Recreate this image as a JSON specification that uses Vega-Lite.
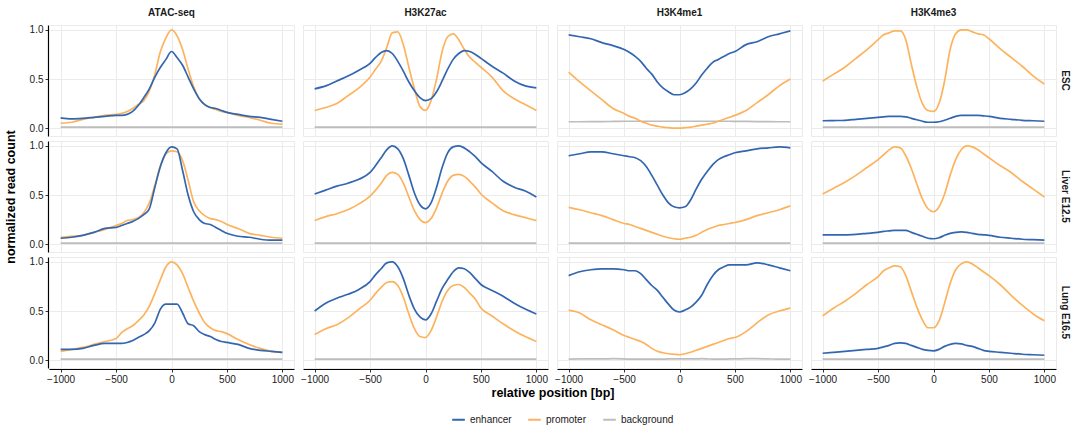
{
  "$schema": "https://vega.github.io/schema/vega-lite/v6.json",
  "padding": {"left": 4, "top": 8, "right": 2, "bottom": 2},
  "background": "white",
  "data": {"values": [
{"t":"ATAC-seq","c":"ESC","x":-1000,"E":0.105,"P":0.05,"B":0.01},
{"t":"ATAC-seq","c":"ESC","x":-900,"E":0.095,"P":0.06,"B":0.01},
{"t":"ATAC-seq","c":"ESC","x":-800,"E":0.10,"P":0.09,"B":0.01},
{"t":"ATAC-seq","c":"ESC","x":-700,"E":0.11,"P":0.11,"B":0.01},
{"t":"ATAC-seq","c":"ESC","x":-600,"E":0.12,"P":0.13,"B":0.01},
{"t":"ATAC-seq","c":"ESC","x":-500,"E":0.13,"P":0.14,"B":0.01},
{"t":"ATAC-seq","c":"ESC","x":-450,"E":0.13,"P":0.15,"B":0.01},
{"t":"ATAC-seq","c":"ESC","x":-400,"E":0.14,"P":0.17,"B":0.01},
{"t":"ATAC-seq","c":"ESC","x":-350,"E":0.17,"P":0.20,"B":0.01},
{"t":"ATAC-seq","c":"ESC","x":-300,"E":0.23,"P":0.24,"B":0.01},
{"t":"ATAC-seq","c":"ESC","x":-250,"E":0.31,"P":0.28,"B":0.01},
{"t":"ATAC-seq","c":"ESC","x":-200,"E":0.40,"P":0.38,"B":0.01},
{"t":"ATAC-seq","c":"ESC","x":-150,"E":0.52,"P":0.55,"B":0.01},
{"t":"ATAC-seq","c":"ESC","x":-100,"E":0.62,"P":0.78,"B":0.01},
{"t":"ATAC-seq","c":"ESC","x":-50,"E":0.70,"P":0.92,"B":0.01},
{"t":"ATAC-seq","c":"ESC","x":0,"E":0.78,"P":1.0,"B":0.01},
{"t":"ATAC-seq","c":"ESC","x":50,"E":0.72,"P":0.94,"B":0.01},
{"t":"ATAC-seq","c":"ESC","x":100,"E":0.64,"P":0.80,"B":0.01},
{"t":"ATAC-seq","c":"ESC","x":150,"E":0.52,"P":0.60,"B":0.01},
{"t":"ATAC-seq","c":"ESC","x":200,"E":0.40,"P":0.42,"B":0.01},
{"t":"ATAC-seq","c":"ESC","x":250,"E":0.30,"P":0.30,"B":0.01},
{"t":"ATAC-seq","c":"ESC","x":300,"E":0.24,"P":0.24,"B":0.01},
{"t":"ATAC-seq","c":"ESC","x":350,"E":0.21,"P":0.21,"B":0.01},
{"t":"ATAC-seq","c":"ESC","x":400,"E":0.20,"P":0.19,"B":0.01},
{"t":"ATAC-seq","c":"ESC","x":450,"E":0.18,"P":0.17,"B":0.01},
{"t":"ATAC-seq","c":"ESC","x":500,"E":0.16,"P":0.16,"B":0.01},
{"t":"ATAC-seq","c":"ESC","x":600,"E":0.14,"P":0.13,"B":0.01},
{"t":"ATAC-seq","c":"ESC","x":700,"E":0.12,"P":0.11,"B":0.01},
{"t":"ATAC-seq","c":"ESC","x":800,"E":0.11,"P":0.08,"B":0.01},
{"t":"ATAC-seq","c":"ESC","x":900,"E":0.09,"P":0.05,"B":0.01},
{"t":"ATAC-seq","c":"ESC","x":1000,"E":0.07,"P":0.04,"B":0.01},
{"t":"ATAC-seq","c":"Liver E12.5","x":-1000,"E":0.06,"P":0.07,"B":0.01},
{"t":"ATAC-seq","c":"Liver E12.5","x":-900,"E":0.07,"P":0.08,"B":0.01},
{"t":"ATAC-seq","c":"Liver E12.5","x":-800,"E":0.09,"P":0.09,"B":0.01},
{"t":"ATAC-seq","c":"Liver E12.5","x":-700,"E":0.12,"P":0.12,"B":0.01},
{"t":"ATAC-seq","c":"Liver E12.5","x":-600,"E":0.16,"P":0.15,"B":0.01},
{"t":"ATAC-seq","c":"Liver E12.5","x":-500,"E":0.17,"P":0.19,"B":0.01},
{"t":"ATAC-seq","c":"Liver E12.5","x":-450,"E":0.19,"P":0.21,"B":0.01},
{"t":"ATAC-seq","c":"Liver E12.5","x":-400,"E":0.21,"P":0.24,"B":0.01},
{"t":"ATAC-seq","c":"Liver E12.5","x":-350,"E":0.23,"P":0.25,"B":0.01},
{"t":"ATAC-seq","c":"Liver E12.5","x":-300,"E":0.26,"P":0.27,"B":0.01},
{"t":"ATAC-seq","c":"Liver E12.5","x":-250,"E":0.30,"P":0.32,"B":0.01},
{"t":"ATAC-seq","c":"Liver E12.5","x":-200,"E":0.36,"P":0.42,"B":0.01},
{"t":"ATAC-seq","c":"Liver E12.5","x":-150,"E":0.58,"P":0.60,"B":0.01},
{"t":"ATAC-seq","c":"Liver E12.5","x":-100,"E":0.79,"P":0.80,"B":0.01},
{"t":"ATAC-seq","c":"Liver E12.5","x":-50,"E":0.93,"P":0.92,"B":0.01},
{"t":"ATAC-seq","c":"Liver E12.5","x":0,"E":0.99,"P":0.95,"B":0.01},
{"t":"ATAC-seq","c":"Liver E12.5","x":50,"E":0.97,"P":0.94,"B":0.01},
{"t":"ATAC-seq","c":"Liver E12.5","x":100,"E":0.75,"P":0.85,"B":0.01},
{"t":"ATAC-seq","c":"Liver E12.5","x":150,"E":0.50,"P":0.65,"B":0.01},
{"t":"ATAC-seq","c":"Liver E12.5","x":200,"E":0.33,"P":0.43,"B":0.01},
{"t":"ATAC-seq","c":"Liver E12.5","x":250,"E":0.25,"P":0.34,"B":0.01},
{"t":"ATAC-seq","c":"Liver E12.5","x":300,"E":0.21,"P":0.29,"B":0.01},
{"t":"ATAC-seq","c":"Liver E12.5","x":350,"E":0.20,"P":0.26,"B":0.01},
{"t":"ATAC-seq","c":"Liver E12.5","x":400,"E":0.17,"P":0.25,"B":0.01},
{"t":"ATAC-seq","c":"Liver E12.5","x":450,"E":0.14,"P":0.23,"B":0.01},
{"t":"ATAC-seq","c":"Liver E12.5","x":500,"E":0.11,"P":0.20,"B":0.01},
{"t":"ATAC-seq","c":"Liver E12.5","x":600,"E":0.08,"P":0.16,"B":0.01},
{"t":"ATAC-seq","c":"Liver E12.5","x":700,"E":0.07,"P":0.11,"B":0.01},
{"t":"ATAC-seq","c":"Liver E12.5","x":800,"E":0.05,"P":0.09,"B":0.01},
{"t":"ATAC-seq","c":"Liver E12.5","x":900,"E":0.04,"P":0.07,"B":0.01},
{"t":"ATAC-seq","c":"Liver E12.5","x":1000,"E":0.04,"P":0.06,"B":0.01},
{"t":"ATAC-seq","c":"Lung E16.5","x":-1000,"E":0.11,"P":0.09,"B":0.01},
{"t":"ATAC-seq","c":"Lung E16.5","x":-900,"E":0.11,"P":0.11,"B":0.01},
{"t":"ATAC-seq","c":"Lung E16.5","x":-800,"E":0.12,"P":0.13,"B":0.01},
{"t":"ATAC-seq","c":"Lung E16.5","x":-700,"E":0.15,"P":0.16,"B":0.01},
{"t":"ATAC-seq","c":"Lung E16.5","x":-600,"E":0.17,"P":0.19,"B":0.01},
{"t":"ATAC-seq","c":"Lung E16.5","x":-500,"E":0.17,"P":0.22,"B":0.01},
{"t":"ATAC-seq","c":"Lung E16.5","x":-450,"E":0.17,"P":0.28,"B":0.01},
{"t":"ATAC-seq","c":"Lung E16.5","x":-400,"E":0.18,"P":0.32,"B":0.01},
{"t":"ATAC-seq","c":"Lung E16.5","x":-350,"E":0.20,"P":0.35,"B":0.01},
{"t":"ATAC-seq","c":"Lung E16.5","x":-300,"E":0.23,"P":0.40,"B":0.01},
{"t":"ATAC-seq","c":"Lung E16.5","x":-250,"E":0.26,"P":0.46,"B":0.01},
{"t":"ATAC-seq","c":"Lung E16.5","x":-200,"E":0.30,"P":0.55,"B":0.01},
{"t":"ATAC-seq","c":"Lung E16.5","x":-150,"E":0.38,"P":0.68,"B":0.01},
{"t":"ATAC-seq","c":"Lung E16.5","x":-100,"E":0.52,"P":0.82,"B":0.01},
{"t":"ATAC-seq","c":"Lung E16.5","x":-50,"E":0.57,"P":0.95,"B":0.01},
{"t":"ATAC-seq","c":"Lung E16.5","x":0,"E":0.57,"P":1.0,"B":0.01},
{"t":"ATAC-seq","c":"Lung E16.5","x":50,"E":0.57,"P":0.97,"B":0.01},
{"t":"ATAC-seq","c":"Lung E16.5","x":100,"E":0.48,"P":0.88,"B":0.01},
{"t":"ATAC-seq","c":"Lung E16.5","x":150,"E":0.37,"P":0.74,"B":0.01},
{"t":"ATAC-seq","c":"Lung E16.5","x":200,"E":0.35,"P":0.60,"B":0.01},
{"t":"ATAC-seq","c":"Lung E16.5","x":250,"E":0.29,"P":0.48,"B":0.01},
{"t":"ATAC-seq","c":"Lung E16.5","x":300,"E":0.26,"P":0.38,"B":0.01},
{"t":"ATAC-seq","c":"Lung E16.5","x":350,"E":0.24,"P":0.33,"B":0.01},
{"t":"ATAC-seq","c":"Lung E16.5","x":400,"E":0.21,"P":0.30,"B":0.01},
{"t":"ATAC-seq","c":"Lung E16.5","x":450,"E":0.19,"P":0.29,"B":0.01},
{"t":"ATAC-seq","c":"Lung E16.5","x":500,"E":0.18,"P":0.27,"B":0.01},
{"t":"ATAC-seq","c":"Lung E16.5","x":600,"E":0.16,"P":0.21,"B":0.01},
{"t":"ATAC-seq","c":"Lung E16.5","x":700,"E":0.12,"P":0.16,"B":0.01},
{"t":"ATAC-seq","c":"Lung E16.5","x":800,"E":0.10,"P":0.12,"B":0.01},
{"t":"ATAC-seq","c":"Lung E16.5","x":900,"E":0.09,"P":0.09,"B":0.01},
{"t":"ATAC-seq","c":"Lung E16.5","x":1000,"E":0.08,"P":0.08,"B":0.01},
{"t":"H3K27ac","c":"ESC","x":-1000,"E":0.40,"P":0.18,"B":0.01},
{"t":"H3K27ac","c":"ESC","x":-900,"E":0.43,"P":0.21,"B":0.01},
{"t":"H3K27ac","c":"ESC","x":-800,"E":0.48,"P":0.25,"B":0.01},
{"t":"H3K27ac","c":"ESC","x":-700,"E":0.53,"P":0.33,"B":0.01},
{"t":"H3K27ac","c":"ESC","x":-600,"E":0.59,"P":0.41,"B":0.01},
{"t":"H3K27ac","c":"ESC","x":-500,"E":0.66,"P":0.52,"B":0.01},
{"t":"H3K27ac","c":"ESC","x":-450,"E":0.72,"P":0.60,"B":0.01},
{"t":"H3K27ac","c":"ESC","x":-400,"E":0.77,"P":0.68,"B":0.01},
{"t":"H3K27ac","c":"ESC","x":-350,"E":0.79,"P":0.82,"B":0.01},
{"t":"H3K27ac","c":"ESC","x":-300,"E":0.76,"P":0.97,"B":0.01},
{"t":"H3K27ac","c":"ESC","x":-250,"E":0.68,"P":0.98,"B":0.01},
{"t":"H3K27ac","c":"ESC","x":-200,"E":0.58,"P":0.85,"B":0.01},
{"t":"H3K27ac","c":"ESC","x":-150,"E":0.47,"P":0.62,"B":0.01},
{"t":"H3K27ac","c":"ESC","x":-100,"E":0.38,"P":0.40,"B":0.01},
{"t":"H3K27ac","c":"ESC","x":-50,"E":0.31,"P":0.22,"B":0.01},
{"t":"H3K27ac","c":"ESC","x":0,"E":0.28,"P":0.18,"B":0.01},
{"t":"H3K27ac","c":"ESC","x":50,"E":0.30,"P":0.28,"B":0.01},
{"t":"H3K27ac","c":"ESC","x":100,"E":0.37,"P":0.50,"B":0.01},
{"t":"H3K27ac","c":"ESC","x":150,"E":0.48,"P":0.78,"B":0.01},
{"t":"H3K27ac","c":"ESC","x":200,"E":0.60,"P":0.93,"B":0.01},
{"t":"H3K27ac","c":"ESC","x":250,"E":0.70,"P":0.96,"B":0.01},
{"t":"H3K27ac","c":"ESC","x":300,"E":0.76,"P":0.90,"B":0.01},
{"t":"H3K27ac","c":"ESC","x":350,"E":0.79,"P":0.80,"B":0.01},
{"t":"H3K27ac","c":"ESC","x":400,"E":0.78,"P":0.72,"B":0.01},
{"t":"H3K27ac","c":"ESC","x":450,"E":0.75,"P":0.67,"B":0.01},
{"t":"H3K27ac","c":"ESC","x":500,"E":0.71,"P":0.62,"B":0.01},
{"t":"H3K27ac","c":"ESC","x":600,"E":0.63,"P":0.52,"B":0.01},
{"t":"H3K27ac","c":"ESC","x":700,"E":0.56,"P":0.38,"B":0.01},
{"t":"H3K27ac","c":"ESC","x":800,"E":0.48,"P":0.30,"B":0.01},
{"t":"H3K27ac","c":"ESC","x":900,"E":0.43,"P":0.24,"B":0.01},
{"t":"H3K27ac","c":"ESC","x":1000,"E":0.41,"P":0.18,"B":0.01},
{"t":"H3K27ac","c":"Liver E12.5","x":-1000,"E":0.51,"P":0.24,"B":0.01},
{"t":"H3K27ac","c":"Liver E12.5","x":-900,"E":0.55,"P":0.28,"B":0.01},
{"t":"H3K27ac","c":"Liver E12.5","x":-800,"E":0.59,"P":0.31,"B":0.01},
{"t":"H3K27ac","c":"Liver E12.5","x":-700,"E":0.62,"P":0.35,"B":0.01},
{"t":"H3K27ac","c":"Liver E12.5","x":-600,"E":0.66,"P":0.41,"B":0.01},
{"t":"H3K27ac","c":"Liver E12.5","x":-500,"E":0.73,"P":0.49,"B":0.01},
{"t":"H3K27ac","c":"Liver E12.5","x":-450,"E":0.80,"P":0.55,"B":0.01},
{"t":"H3K27ac","c":"Liver E12.5","x":-400,"E":0.88,"P":0.62,"B":0.01},
{"t":"H3K27ac","c":"Liver E12.5","x":-350,"E":0.96,"P":0.70,"B":0.01},
{"t":"H3K27ac","c":"Liver E12.5","x":-300,"E":1.0,"P":0.73,"B":0.01},
{"t":"H3K27ac","c":"Liver E12.5","x":-250,"E":0.97,"P":0.71,"B":0.01},
{"t":"H3K27ac","c":"Liver E12.5","x":-200,"E":0.87,"P":0.62,"B":0.01},
{"t":"H3K27ac","c":"Liver E12.5","x":-150,"E":0.70,"P":0.48,"B":0.01},
{"t":"H3K27ac","c":"Liver E12.5","x":-100,"E":0.52,"P":0.34,"B":0.01},
{"t":"H3K27ac","c":"Liver E12.5","x":-50,"E":0.40,"P":0.25,"B":0.01},
{"t":"H3K27ac","c":"Liver E12.5","x":0,"E":0.36,"P":0.22,"B":0.01},
{"t":"H3K27ac","c":"Liver E12.5","x":50,"E":0.42,"P":0.26,"B":0.01},
{"t":"H3K27ac","c":"Liver E12.5","x":100,"E":0.58,"P":0.37,"B":0.01},
{"t":"H3K27ac","c":"Liver E12.5","x":150,"E":0.78,"P":0.52,"B":0.01},
{"t":"H3K27ac","c":"Liver E12.5","x":200,"E":0.93,"P":0.64,"B":0.01},
{"t":"H3K27ac","c":"Liver E12.5","x":250,"E":0.99,"P":0.70,"B":0.01},
{"t":"H3K27ac","c":"Liver E12.5","x":300,"E":1.0,"P":0.71,"B":0.01},
{"t":"H3K27ac","c":"Liver E12.5","x":350,"E":0.98,"P":0.69,"B":0.01},
{"t":"H3K27ac","c":"Liver E12.5","x":400,"E":0.94,"P":0.64,"B":0.01},
{"t":"H3K27ac","c":"Liver E12.5","x":450,"E":0.89,"P":0.58,"B":0.01},
{"t":"H3K27ac","c":"Liver E12.5","x":500,"E":0.83,"P":0.51,"B":0.01},
{"t":"H3K27ac","c":"Liver E12.5","x":600,"E":0.74,"P":0.42,"B":0.01},
{"t":"H3K27ac","c":"Liver E12.5","x":700,"E":0.64,"P":0.34,"B":0.01},
{"t":"H3K27ac","c":"Liver E12.5","x":800,"E":0.58,"P":0.30,"B":0.01},
{"t":"H3K27ac","c":"Liver E12.5","x":900,"E":0.54,"P":0.27,"B":0.01},
{"t":"H3K27ac","c":"Liver E12.5","x":1000,"E":0.48,"P":0.24,"B":0.01},
{"t":"H3K27ac","c":"Lung E16.5","x":-1000,"E":0.50,"P":0.26,"B":0.01},
{"t":"H3K27ac","c":"Lung E16.5","x":-900,"E":0.58,"P":0.32,"B":0.01},
{"t":"H3K27ac","c":"Lung E16.5","x":-800,"E":0.63,"P":0.36,"B":0.01},
{"t":"H3K27ac","c":"Lung E16.5","x":-700,"E":0.67,"P":0.43,"B":0.01},
{"t":"H3K27ac","c":"Lung E16.5","x":-600,"E":0.72,"P":0.52,"B":0.01},
{"t":"H3K27ac","c":"Lung E16.5","x":-500,"E":0.80,"P":0.61,"B":0.01},
{"t":"H3K27ac","c":"Lung E16.5","x":-450,"E":0.87,"P":0.68,"B":0.01},
{"t":"H3K27ac","c":"Lung E16.5","x":-400,"E":0.93,"P":0.74,"B":0.01},
{"t":"H3K27ac","c":"Lung E16.5","x":-350,"E":0.99,"P":0.79,"B":0.01},
{"t":"H3K27ac","c":"Lung E16.5","x":-300,"E":1.0,"P":0.80,"B":0.01},
{"t":"H3K27ac","c":"Lung E16.5","x":-250,"E":0.95,"P":0.76,"B":0.01},
{"t":"H3K27ac","c":"Lung E16.5","x":-200,"E":0.83,"P":0.64,"B":0.01},
{"t":"H3K27ac","c":"Lung E16.5","x":-150,"E":0.66,"P":0.47,"B":0.01},
{"t":"H3K27ac","c":"Lung E16.5","x":-100,"E":0.52,"P":0.32,"B":0.01},
{"t":"H3K27ac","c":"Lung E16.5","x":-50,"E":0.44,"P":0.24,"B":0.01},
{"t":"H3K27ac","c":"Lung E16.5","x":0,"E":0.41,"P":0.23,"B":0.01},
{"t":"H3K27ac","c":"Lung E16.5","x":50,"E":0.47,"P":0.30,"B":0.01},
{"t":"H3K27ac","c":"Lung E16.5","x":100,"E":0.60,"P":0.44,"B":0.01},
{"t":"H3K27ac","c":"Lung E16.5","x":150,"E":0.73,"P":0.60,"B":0.01},
{"t":"H3K27ac","c":"Lung E16.5","x":200,"E":0.82,"P":0.71,"B":0.01},
{"t":"H3K27ac","c":"Lung E16.5","x":250,"E":0.90,"P":0.76,"B":0.01},
{"t":"H3K27ac","c":"Lung E16.5","x":300,"E":0.94,"P":0.77,"B":0.01},
{"t":"H3K27ac","c":"Lung E16.5","x":350,"E":0.93,"P":0.74,"B":0.01},
{"t":"H3K27ac","c":"Lung E16.5","x":400,"E":0.89,"P":0.68,"B":0.01},
{"t":"H3K27ac","c":"Lung E16.5","x":450,"E":0.83,"P":0.62,"B":0.01},
{"t":"H3K27ac","c":"Lung E16.5","x":500,"E":0.77,"P":0.53,"B":0.01},
{"t":"H3K27ac","c":"Lung E16.5","x":600,"E":0.71,"P":0.45,"B":0.01},
{"t":"H3K27ac","c":"Lung E16.5","x":700,"E":0.65,"P":0.37,"B":0.01},
{"t":"H3K27ac","c":"Lung E16.5","x":800,"E":0.58,"P":0.30,"B":0.01},
{"t":"H3K27ac","c":"Lung E16.5","x":900,"E":0.52,"P":0.24,"B":0.01},
{"t":"H3K27ac","c":"Lung E16.5","x":1000,"E":0.47,"P":0.19,"B":0.01},
{"t":"H3K4me1","c":"ESC","x":-1000,"E":0.95,"P":0.57,"B":0.065},
{"t":"H3K4me1","c":"ESC","x":-900,"E":0.93,"P":0.47,"B":0.065},
{"t":"H3K4me1","c":"ESC","x":-800,"E":0.91,"P":0.38,"B":0.066},
{"t":"H3K4me1","c":"ESC","x":-700,"E":0.87,"P":0.29,"B":0.067},
{"t":"H3K4me1","c":"ESC","x":-600,"E":0.84,"P":0.20,"B":0.068},
{"t":"H3K4me1","c":"ESC","x":-500,"E":0.80,"P":0.15,"B":0.07},
{"t":"H3K4me1","c":"ESC","x":-450,"E":0.77,"P":0.12,"B":0.07},
{"t":"H3K4me1","c":"ESC","x":-400,"E":0.73,"P":0.10,"B":0.07},
{"t":"H3K4me1","c":"ESC","x":-350,"E":0.68,"P":0.07,"B":0.07},
{"t":"H3K4me1","c":"ESC","x":-300,"E":0.61,"P":0.05,"B":0.07},
{"t":"H3K4me1","c":"ESC","x":-250,"E":0.55,"P":0.03,"B":0.07},
{"t":"H3K4me1","c":"ESC","x":-200,"E":0.47,"P":0.02,"B":0.07},
{"t":"H3K4me1","c":"ESC","x":-150,"E":0.41,"P":0.01,"B":0.07},
{"t":"H3K4me1","c":"ESC","x":-100,"E":0.37,"P":0.005,"B":0.07},
{"t":"H3K4me1","c":"ESC","x":-50,"E":0.34,"P":0.0,"B":0.07},
{"t":"H3K4me1","c":"ESC","x":0,"E":0.34,"P":0.0,"B":0.07},
{"t":"H3K4me1","c":"ESC","x":50,"E":0.36,"P":0.005,"B":0.07},
{"t":"H3K4me1","c":"ESC","x":100,"E":0.40,"P":0.01,"B":0.07},
{"t":"H3K4me1","c":"ESC","x":150,"E":0.46,"P":0.02,"B":0.07},
{"t":"H3K4me1","c":"ESC","x":200,"E":0.54,"P":0.03,"B":0.07},
{"t":"H3K4me1","c":"ESC","x":250,"E":0.61,"P":0.04,"B":0.07},
{"t":"H3K4me1","c":"ESC","x":300,"E":0.67,"P":0.05,"B":0.07},
{"t":"H3K4me1","c":"ESC","x":350,"E":0.70,"P":0.07,"B":0.07},
{"t":"H3K4me1","c":"ESC","x":400,"E":0.73,"P":0.09,"B":0.07},
{"t":"H3K4me1","c":"ESC","x":450,"E":0.76,"P":0.11,"B":0.07},
{"t":"H3K4me1","c":"ESC","x":500,"E":0.78,"P":0.13,"B":0.069},
{"t":"H3K4me1","c":"ESC","x":600,"E":0.85,"P":0.18,"B":0.068},
{"t":"H3K4me1","c":"ESC","x":700,"E":0.88,"P":0.26,"B":0.067},
{"t":"H3K4me1","c":"ESC","x":800,"E":0.93,"P":0.34,"B":0.066},
{"t":"H3K4me1","c":"ESC","x":900,"E":0.96,"P":0.43,"B":0.065},
{"t":"H3K4me1","c":"ESC","x":1000,"E":0.99,"P":0.50,"B":0.065},
{"t":"H3K4me1","c":"Liver E12.5","x":-1000,"E":0.90,"P":0.375,"B":0.01},
{"t":"H3K4me1","c":"Liver E12.5","x":-900,"E":0.92,"P":0.35,"B":0.01},
{"t":"H3K4me1","c":"Liver E12.5","x":-800,"E":0.94,"P":0.32,"B":0.01},
{"t":"H3K4me1","c":"Liver E12.5","x":-700,"E":0.94,"P":0.29,"B":0.01},
{"t":"H3K4me1","c":"Liver E12.5","x":-600,"E":0.92,"P":0.25,"B":0.01},
{"t":"H3K4me1","c":"Liver E12.5","x":-500,"E":0.90,"P":0.21,"B":0.01},
{"t":"H3K4me1","c":"Liver E12.5","x":-450,"E":0.89,"P":0.20,"B":0.01},
{"t":"H3K4me1","c":"Liver E12.5","x":-400,"E":0.88,"P":0.18,"B":0.01},
{"t":"H3K4me1","c":"Liver E12.5","x":-350,"E":0.85,"P":0.16,"B":0.01},
{"t":"H3K4me1","c":"Liver E12.5","x":-300,"E":0.79,"P":0.14,"B":0.01},
{"t":"H3K4me1","c":"Liver E12.5","x":-250,"E":0.70,"P":0.12,"B":0.01},
{"t":"H3K4me1","c":"Liver E12.5","x":-200,"E":0.60,"P":0.10,"B":0.01},
{"t":"H3K4me1","c":"Liver E12.5","x":-150,"E":0.50,"P":0.08,"B":0.01},
{"t":"H3K4me1","c":"Liver E12.5","x":-100,"E":0.42,"P":0.065,"B":0.01},
{"t":"H3K4me1","c":"Liver E12.5","x":-50,"E":0.38,"P":0.055,"B":0.01},
{"t":"H3K4me1","c":"Liver E12.5","x":0,"E":0.37,"P":0.05,"B":0.01},
{"t":"H3K4me1","c":"Liver E12.5","x":50,"E":0.38,"P":0.06,"B":0.01},
{"t":"H3K4me1","c":"Liver E12.5","x":100,"E":0.45,"P":0.07,"B":0.01},
{"t":"H3K4me1","c":"Liver E12.5","x":150,"E":0.56,"P":0.09,"B":0.01},
{"t":"H3K4me1","c":"Liver E12.5","x":200,"E":0.66,"P":0.12,"B":0.01},
{"t":"H3K4me1","c":"Liver E12.5","x":250,"E":0.74,"P":0.15,"B":0.01},
{"t":"H3K4me1","c":"Liver E12.5","x":300,"E":0.81,"P":0.17,"B":0.01},
{"t":"H3K4me1","c":"Liver E12.5","x":350,"E":0.86,"P":0.19,"B":0.01},
{"t":"H3K4me1","c":"Liver E12.5","x":400,"E":0.89,"P":0.20,"B":0.01},
{"t":"H3K4me1","c":"Liver E12.5","x":450,"E":0.91,"P":0.21,"B":0.01},
{"t":"H3K4me1","c":"Liver E12.5","x":500,"E":0.93,"P":0.22,"B":0.01},
{"t":"H3K4me1","c":"Liver E12.5","x":600,"E":0.95,"P":0.25,"B":0.01},
{"t":"H3K4me1","c":"Liver E12.5","x":700,"E":0.97,"P":0.29,"B":0.01},
{"t":"H3K4me1","c":"Liver E12.5","x":800,"E":0.98,"P":0.32,"B":0.01},
{"t":"H3K4me1","c":"Liver E12.5","x":900,"E":0.99,"P":0.35,"B":0.01},
{"t":"H3K4me1","c":"Liver E12.5","x":1000,"E":0.98,"P":0.39,"B":0.01},
{"t":"H3K4me1","c":"Lung E16.5","x":-1000,"E":0.86,"P":0.51,"B":0.01},
{"t":"H3K4me1","c":"Lung E16.5","x":-900,"E":0.90,"P":0.48,"B":0.012},
{"t":"H3K4me1","c":"Lung E16.5","x":-800,"E":0.92,"P":0.41,"B":0.012},
{"t":"H3K4me1","c":"Lung E16.5","x":-700,"E":0.93,"P":0.36,"B":0.012},
{"t":"H3K4me1","c":"Lung E16.5","x":-600,"E":0.93,"P":0.31,"B":0.015},
{"t":"H3K4me1","c":"Lung E16.5","x":-500,"E":0.92,"P":0.25,"B":0.012},
{"t":"H3K4me1","c":"Lung E16.5","x":-450,"E":0.91,"P":0.23,"B":0.01},
{"t":"H3K4me1","c":"Lung E16.5","x":-400,"E":0.91,"P":0.21,"B":0.01},
{"t":"H3K4me1","c":"Lung E16.5","x":-350,"E":0.88,"P":0.19,"B":0.01},
{"t":"H3K4me1","c":"Lung E16.5","x":-300,"E":0.82,"P":0.16,"B":0.01},
{"t":"H3K4me1","c":"Lung E16.5","x":-250,"E":0.76,"P":0.12,"B":0.01},
{"t":"H3K4me1","c":"Lung E16.5","x":-200,"E":0.71,"P":0.09,"B":0.01},
{"t":"H3K4me1","c":"Lung E16.5","x":-150,"E":0.64,"P":0.075,"B":0.01},
{"t":"H3K4me1","c":"Lung E16.5","x":-100,"E":0.57,"P":0.065,"B":0.012},
{"t":"H3K4me1","c":"Lung E16.5","x":-50,"E":0.51,"P":0.06,"B":0.012},
{"t":"H3K4me1","c":"Lung E16.5","x":0,"E":0.49,"P":0.055,"B":0.012},
{"t":"H3K4me1","c":"Lung E16.5","x":50,"E":0.51,"P":0.065,"B":0.012},
{"t":"H3K4me1","c":"Lung E16.5","x":100,"E":0.54,"P":0.08,"B":0.012},
{"t":"H3K4me1","c":"Lung E16.5","x":150,"E":0.59,"P":0.10,"B":0.012},
{"t":"H3K4me1","c":"Lung E16.5","x":200,"E":0.66,"P":0.12,"B":0.015},
{"t":"H3K4me1","c":"Lung E16.5","x":250,"E":0.77,"P":0.14,"B":0.012},
{"t":"H3K4me1","c":"Lung E16.5","x":300,"E":0.86,"P":0.16,"B":0.01},
{"t":"H3K4me1","c":"Lung E16.5","x":350,"E":0.92,"P":0.18,"B":0.01},
{"t":"H3K4me1","c":"Lung E16.5","x":400,"E":0.95,"P":0.20,"B":0.01},
{"t":"H3K4me1","c":"Lung E16.5","x":450,"E":0.97,"P":0.22,"B":0.012},
{"t":"H3K4me1","c":"Lung E16.5","x":500,"E":0.97,"P":0.23,"B":0.012},
{"t":"H3K4me1","c":"Lung E16.5","x":600,"E":0.97,"P":0.29,"B":0.015},
{"t":"H3K4me1","c":"Lung E16.5","x":700,"E":0.99,"P":0.38,"B":0.015},
{"t":"H3K4me1","c":"Lung E16.5","x":800,"E":0.97,"P":0.46,"B":0.012},
{"t":"H3K4me1","c":"Lung E16.5","x":900,"E":0.94,"P":0.50,"B":0.01},
{"t":"H3K4me1","c":"Lung E16.5","x":1000,"E":0.91,"P":0.53,"B":0.01},
{"t":"H3K4me3","c":"ESC","x":-1000,"E":0.075,"P":0.48,"B":0.01},
{"t":"H3K4me3","c":"ESC","x":-900,"E":0.077,"P":0.55,"B":0.01},
{"t":"H3K4me3","c":"ESC","x":-800,"E":0.08,"P":0.62,"B":0.01},
{"t":"H3K4me3","c":"ESC","x":-700,"E":0.09,"P":0.71,"B":0.01},
{"t":"H3K4me3","c":"ESC","x":-600,"E":0.10,"P":0.80,"B":0.01},
{"t":"H3K4me3","c":"ESC","x":-500,"E":0.11,"P":0.90,"B":0.01},
{"t":"H3K4me3","c":"ESC","x":-450,"E":0.115,"P":0.95,"B":0.01},
{"t":"H3K4me3","c":"ESC","x":-400,"E":0.12,"P":0.97,"B":0.01},
{"t":"H3K4me3","c":"ESC","x":-350,"E":0.12,"P":0.99,"B":0.01},
{"t":"H3K4me3","c":"ESC","x":-300,"E":0.12,"P":0.99,"B":0.01},
{"t":"H3K4me3","c":"ESC","x":-250,"E":0.115,"P":0.90,"B":0.01},
{"t":"H3K4me3","c":"ESC","x":-200,"E":0.10,"P":0.65,"B":0.01},
{"t":"H3K4me3","c":"ESC","x":-150,"E":0.085,"P":0.42,"B":0.01},
{"t":"H3K4me3","c":"ESC","x":-100,"E":0.07,"P":0.25,"B":0.01},
{"t":"H3K4me3","c":"ESC","x":-50,"E":0.06,"P":0.18,"B":0.01},
{"t":"H3K4me3","c":"ESC","x":0,"E":0.06,"P":0.17,"B":0.01},
{"t":"H3K4me3","c":"ESC","x":50,"E":0.065,"P":0.25,"B":0.01},
{"t":"H3K4me3","c":"ESC","x":100,"E":0.08,"P":0.48,"B":0.01},
{"t":"H3K4me3","c":"ESC","x":150,"E":0.10,"P":0.80,"B":0.01},
{"t":"H3K4me3","c":"ESC","x":200,"E":0.12,"P":0.96,"B":0.01},
{"t":"H3K4me3","c":"ESC","x":250,"E":0.13,"P":1.0,"B":0.01},
{"t":"H3K4me3","c":"ESC","x":300,"E":0.13,"P":1.0,"B":0.01},
{"t":"H3K4me3","c":"ESC","x":350,"E":0.13,"P":0.98,"B":0.01},
{"t":"H3K4me3","c":"ESC","x":400,"E":0.13,"P":0.96,"B":0.01},
{"t":"H3K4me3","c":"ESC","x":450,"E":0.125,"P":0.95,"B":0.01},
{"t":"H3K4me3","c":"ESC","x":500,"E":0.12,"P":0.91,"B":0.01},
{"t":"H3K4me3","c":"ESC","x":600,"E":0.10,"P":0.81,"B":0.01},
{"t":"H3K4me3","c":"ESC","x":700,"E":0.09,"P":0.72,"B":0.01},
{"t":"H3K4me3","c":"ESC","x":800,"E":0.08,"P":0.63,"B":0.01},
{"t":"H3K4me3","c":"ESC","x":900,"E":0.075,"P":0.53,"B":0.01},
{"t":"H3K4me3","c":"ESC","x":1000,"E":0.07,"P":0.45,"B":0.01},
{"t":"H3K4me3","c":"Liver E12.5","x":-1000,"E":0.095,"P":0.51,"B":0.01},
{"t":"H3K4me3","c":"Liver E12.5","x":-900,"E":0.095,"P":0.57,"B":0.01},
{"t":"H3K4me3","c":"Liver E12.5","x":-800,"E":0.095,"P":0.63,"B":0.01},
{"t":"H3K4me3","c":"Liver E12.5","x":-700,"E":0.10,"P":0.70,"B":0.01},
{"t":"H3K4me3","c":"Liver E12.5","x":-600,"E":0.11,"P":0.78,"B":0.01},
{"t":"H3K4me3","c":"Liver E12.5","x":-500,"E":0.12,"P":0.86,"B":0.01},
{"t":"H3K4me3","c":"Liver E12.5","x":-450,"E":0.13,"P":0.91,"B":0.01},
{"t":"H3K4me3","c":"Liver E12.5","x":-400,"E":0.135,"P":0.96,"B":0.01},
{"t":"H3K4me3","c":"Liver E12.5","x":-350,"E":0.14,"P":0.99,"B":0.01},
{"t":"H3K4me3","c":"Liver E12.5","x":-300,"E":0.14,"P":0.98,"B":0.01},
{"t":"H3K4me3","c":"Liver E12.5","x":-250,"E":0.14,"P":0.90,"B":0.01},
{"t":"H3K4me3","c":"Liver E12.5","x":-200,"E":0.12,"P":0.77,"B":0.01},
{"t":"H3K4me3","c":"Liver E12.5","x":-150,"E":0.10,"P":0.61,"B":0.01},
{"t":"H3K4me3","c":"Liver E12.5","x":-100,"E":0.08,"P":0.46,"B":0.01},
{"t":"H3K4me3","c":"Liver E12.5","x":-50,"E":0.06,"P":0.36,"B":0.01},
{"t":"H3K4me3","c":"Liver E12.5","x":0,"E":0.055,"P":0.33,"B":0.01},
{"t":"H3K4me3","c":"Liver E12.5","x":50,"E":0.065,"P":0.38,"B":0.01},
{"t":"H3K4me3","c":"Liver E12.5","x":100,"E":0.09,"P":0.51,"B":0.01},
{"t":"H3K4me3","c":"Liver E12.5","x":150,"E":0.11,"P":0.70,"B":0.01},
{"t":"H3K4me3","c":"Liver E12.5","x":200,"E":0.12,"P":0.86,"B":0.01},
{"t":"H3K4me3","c":"Liver E12.5","x":250,"E":0.125,"P":0.96,"B":0.01},
{"t":"H3K4me3","c":"Liver E12.5","x":300,"E":0.12,"P":1.0,"B":0.01},
{"t":"H3K4me3","c":"Liver E12.5","x":350,"E":0.11,"P":0.99,"B":0.01},
{"t":"H3K4me3","c":"Liver E12.5","x":400,"E":0.10,"P":0.96,"B":0.01},
{"t":"H3K4me3","c":"Liver E12.5","x":450,"E":0.095,"P":0.92,"B":0.01},
{"t":"H3K4me3","c":"Liver E12.5","x":500,"E":0.09,"P":0.88,"B":0.01},
{"t":"H3K4me3","c":"Liver E12.5","x":600,"E":0.07,"P":0.80,"B":0.01},
{"t":"H3K4me3","c":"Liver E12.5","x":700,"E":0.06,"P":0.73,"B":0.01},
{"t":"H3K4me3","c":"Liver E12.5","x":800,"E":0.05,"P":0.64,"B":0.01},
{"t":"H3K4me3","c":"Liver E12.5","x":900,"E":0.045,"P":0.56,"B":0.01},
{"t":"H3K4me3","c":"Liver E12.5","x":1000,"E":0.04,"P":0.48,"B":0.01},
{"t":"H3K4me3","c":"Lung E16.5","x":-1000,"E":0.07,"P":0.45,"B":0.01},
{"t":"H3K4me3","c":"Lung E16.5","x":-900,"E":0.08,"P":0.53,"B":0.01},
{"t":"H3K4me3","c":"Lung E16.5","x":-800,"E":0.09,"P":0.60,"B":0.01},
{"t":"H3K4me3","c":"Lung E16.5","x":-700,"E":0.10,"P":0.68,"B":0.01},
{"t":"H3K4me3","c":"Lung E16.5","x":-600,"E":0.11,"P":0.77,"B":0.01},
{"t":"H3K4me3","c":"Lung E16.5","x":-500,"E":0.12,"P":0.85,"B":0.01},
{"t":"H3K4me3","c":"Lung E16.5","x":-450,"E":0.135,"P":0.91,"B":0.01},
{"t":"H3K4me3","c":"Lung E16.5","x":-400,"E":0.15,"P":0.94,"B":0.01},
{"t":"H3K4me3","c":"Lung E16.5","x":-350,"E":0.17,"P":0.96,"B":0.01},
{"t":"H3K4me3","c":"Lung E16.5","x":-300,"E":0.175,"P":0.95,"B":0.01},
{"t":"H3K4me3","c":"Lung E16.5","x":-250,"E":0.17,"P":0.86,"B":0.01},
{"t":"H3K4me3","c":"Lung E16.5","x":-200,"E":0.15,"P":0.70,"B":0.01},
{"t":"H3K4me3","c":"Lung E16.5","x":-150,"E":0.13,"P":0.54,"B":0.01},
{"t":"H3K4me3","c":"Lung E16.5","x":-100,"E":0.11,"P":0.41,"B":0.01},
{"t":"H3K4me3","c":"Lung E16.5","x":-50,"E":0.10,"P":0.33,"B":0.01},
{"t":"H3K4me3","c":"Lung E16.5","x":0,"E":0.095,"P":0.33,"B":0.01},
{"t":"H3K4me3","c":"Lung E16.5","x":50,"E":0.11,"P":0.40,"B":0.01},
{"t":"H3K4me3","c":"Lung E16.5","x":100,"E":0.14,"P":0.58,"B":0.01},
{"t":"H3K4me3","c":"Lung E16.5","x":150,"E":0.16,"P":0.78,"B":0.01},
{"t":"H3K4me3","c":"Lung E16.5","x":200,"E":0.17,"P":0.92,"B":0.01},
{"t":"H3K4me3","c":"Lung E16.5","x":250,"E":0.165,"P":0.98,"B":0.01},
{"t":"H3K4me3","c":"Lung E16.5","x":300,"E":0.15,"P":1.0,"B":0.01},
{"t":"H3K4me3","c":"Lung E16.5","x":350,"E":0.14,"P":0.98,"B":0.01},
{"t":"H3K4me3","c":"Lung E16.5","x":400,"E":0.12,"P":0.94,"B":0.01},
{"t":"H3K4me3","c":"Lung E16.5","x":450,"E":0.10,"P":0.90,"B":0.01},
{"t":"H3K4me3","c":"Lung E16.5","x":500,"E":0.09,"P":0.86,"B":0.01},
{"t":"H3K4me3","c":"Lung E16.5","x":600,"E":0.08,"P":0.77,"B":0.01},
{"t":"H3K4me3","c":"Lung E16.5","x":700,"E":0.07,"P":0.66,"B":0.01},
{"t":"H3K4me3","c":"Lung E16.5","x":800,"E":0.06,"P":0.56,"B":0.01},
{"t":"H3K4me3","c":"Lung E16.5","x":900,"E":0.055,"P":0.47,"B":0.01},
{"t":"H3K4me3","c":"Lung E16.5","x":1000,"E":0.05,"P":0.40,"B":0.01}
  ]},
  "transform": [{"fold": ["B", "P", "E"], "as": ["s", "v"]}],
  "facet": {
    "column": {"field": "t", "type": "nominal", "sort": ["ATAC-seq", "H3K27ac", "H3K4me1", "H3K4me3"],
      "title": "relative position [bp]",
      "header": {"titleOrient": "bottom", "labelOrient": "top", "titleFontWeight": "bold", "titleFontSize": 12.5, "titleColor": "#000000", "titlePadding": -7,
        "labelFontWeight": "bold", "labelFontSize": 10, "labelColor": "#1a1a1a", "labelPadding": 6}},
    "row": {"field": "c", "type": "nominal", "sort": ["ESC", "Liver E12.5", "Lung E16.5"],
      "title": "normalized read count",
      "header": {"titleOrient": "left", "labelOrient": "right", "titleFontWeight": "bold", "titleFontSize": 12.5, "titleColor": "#000000", "titlePadding": 2,
        "labelAngle": 90, "labelFontWeight": "bold", "labelFontSize": 10, "labelColor": "#1a1a1a", "labelPadding": 3}}
  },
  "spacing": {"row": 3, "column": 7},
  "spec": {
    "width": 245,
    "height": 111,
    "mark": {"type": "line", "strokeWidth": 1.7, "interpolate": "monotone", "clip": true},
    "encoding": {
      "x": {"field": "x", "type": "quantitative", "title": null,
        "scale": {"domain": [-1105, 1105], "nice": false, "zero": false},
        "axis": {"values": [-1000, -500, 0, 500, 1000], "format": "d"}},
      "y": {"field": "v", "type": "quantitative", "title": null,
        "scale": {"domain": [-0.08, 1.05], "nice": false},
        "axis": {"values": [0, 0.5, 1], "format": ".1f"}},
      "color": {"field": "s", "type": "nominal",
        "scale": {"domain": ["E", "P", "B"], "range": ["#3366B0", "#FDB35E", "#BDBDBD"]},
        "legend": {"title": null, "orient": "none", "legendX": 402, "legendY": 387, "direction": "horizontal", "symbolType": "stroke", "symbolStrokeWidth": 2, "symbolSize": 160,
          "labelExpr": "{'E':'enhancer','P':'promoter','B':'background'}[datum.label]", "labelFontSize": 10, "columnPadding": 12}},
      "order": {"field": "s", "sort": "ascending"}
    }
  },
  "config": {
    "font": "Liberation Sans",
    "view": {"stroke": "#EBEBEB"},
    "axis": {"gridColor": "#EBEBEB", "gridWidth": 1, "domainColor": "#000000", "domainWidth": 1.2, "tickColor": "#333333", "tickSize": 3,
      "labelFontSize": 10, "labelColor": "#1a1a1a", "labelPadding": 2},
    "legend": {"labelColor": "#1a1a1a"}
  }
}
